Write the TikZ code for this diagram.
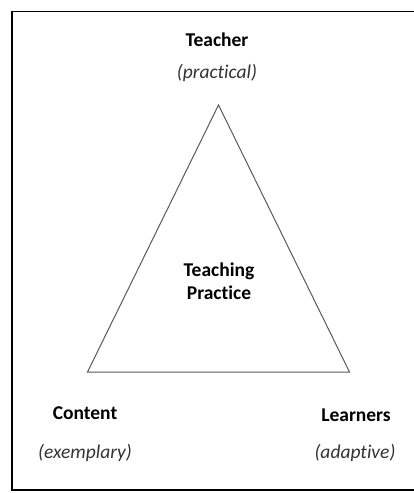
\documentclass[tikz,border=0pt]{standalone}
\usepackage{fontspec}
\setmainfont{Carlito}[RawFeature={-liga}]
\tikzset{
    corner/.style = {font=\fontsize{19.5}{23}\selectfont\bfseries},
    role/.style = {font=\fontsize{19.5}{23}\selectfont\itshape, text=black!80},
    side/.style = {draw=black!65, line width=1pt},
}
\begin{document}
\begin{tikzpicture}[x=1pt,y=-1pt]
    \useasboundingbox (0,0) rectangle (413,493);
    \draw [line width=1.5pt] (12,11.5) rectangle (430,490);
    % triangle
    \coordinate (apex) at (218.5,105);
    \coordinate (left) at (87.5,372);
    \coordinate (right) at (349.5,372);
    \draw [side] (apex) -- (left) -- (right) -- cycle;
    % labels
    \node[corner] (teacher) at (217,40) {Teacher};
    \node[role] (practical) at (217,73) {(practical)};
    \node[corner, align=center] (practice) at (219,281) {Teaching\\Practice};
    \node[corner] (content) at (85,413) {Content};
    \node[role] (exemplary) at (85,453) {(exemplary)};
    \node[corner] (learners) at (356,415) {Learners};
    \node[role] (adaptive) at (355,453) {(adaptive)};
\end{tikzpicture}
\end{document}
